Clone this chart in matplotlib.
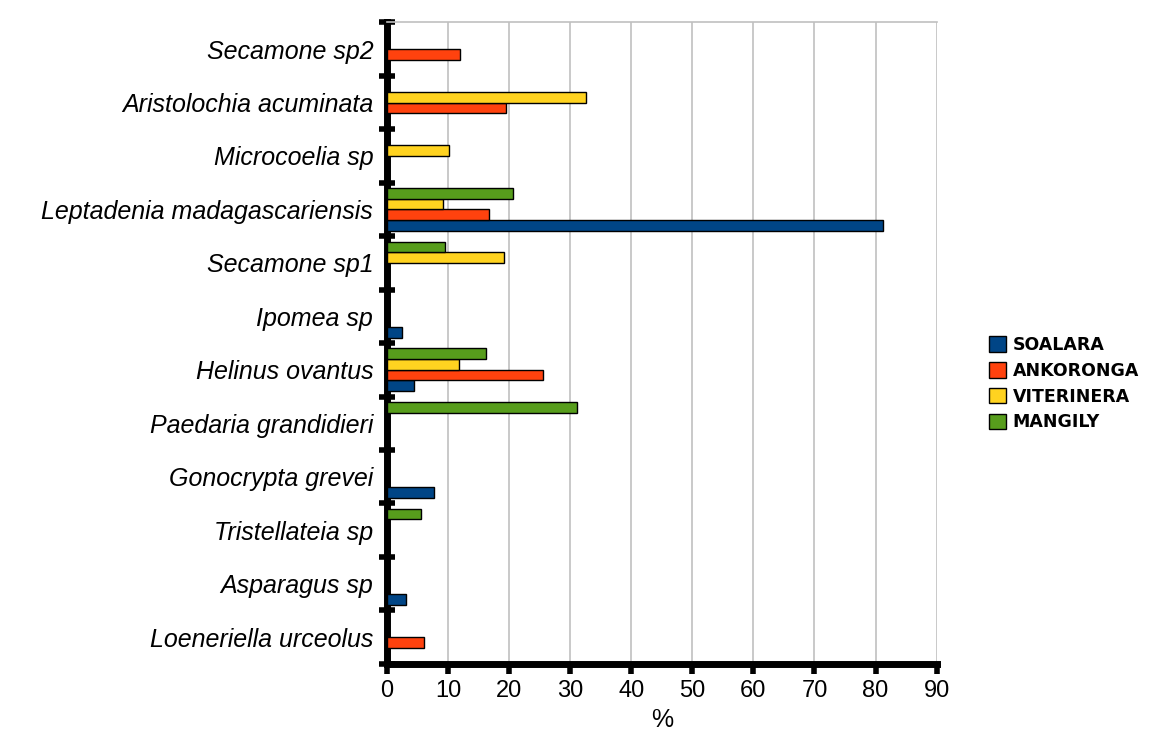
import numpy as np
import matplotlib.pyplot as plt
from matplotlib.ticker import FixedLocator, NullFormatter

# --- Data (top to bottom as in the chart) ---
species = ["Secamone sp2", "Aristolochia acuminata", "Microcoelia sp",
           "Leptadenia madagascariensis", "Secamone sp1", "Ipomea sp",
           "Helinus ovantus", "Paedaria grandidieri", "Gonocrypta grevei",
           "Tristellateia sp", "Asparagus sp", "Loeneriella urceolus"]
soalara    = [0, 0, 0, 81.2, 0, 2.5, 4.4, 0, 7.7, 0, 3.1, 0]
ankoronga  = [12.0, 19.4, 0, 16.7, 0, 0, 25.5, 0, 0, 0, 0, 6.0]
viterinera = [0, 32.5, 10.2, 9.2, 19.1, 0, 11.8, 0, 0, 0, 0, 0]
mangily    = [0, 0, 0, 20.7, 9.5, 0, 16.2, 31.1, 0, 5.5, 0, 0]

series = [("SOALARA", soalara, "#004586"),
          ("ANKORONGA", ankoronga, "#ff420e"),
          ("VITERINERA", viterinera, "#ffd320"),
          ("MANGILY", mangily, "#579d1c")]

n = len(species)
ypos = np.arange(n)[::-1].astype(float)  # top category gets highest y
bh = 0.2

fig = plt.figure(figsize=(11.52, 7.45), dpi=100)
ax = fig.add_axes([0.336, 0.109, 0.477, 0.861])

for k, (name, vals, col) in enumerate(series):
    vals = np.array(vals, dtype=float)
    off = (k - 1.5) * bh
    m = vals > 0
    ax.barh(ypos[m] + off, vals[m], height=bh, color=col,
            edgecolor="black", linewidth=1.0, zorder=3)
    # legend proxy
    ax.barh([np.nan], [np.nan], color=col, edgecolor="black",
            linewidth=1.0, label=name)

ax.set_xlim(0, 90)
ax.set_ylim(-0.5, n - 0.5)
ax.set_xticks(np.arange(0, 91, 10))
ax.tick_params(axis="x", labelsize=17, direction="out", length=7,
               width=4, pad=5, colors="black")
ax.grid(axis="x", color="#c0c0c0", linewidth=1.2, zorder=0)

# y: boundary ticks (major) and centred labels (minor)
ax.yaxis.set_major_locator(FixedLocator(np.arange(-0.5, n, 1.0)))
ax.yaxis.set_major_formatter(NullFormatter())
ax.yaxis.set_minor_locator(FixedLocator(ypos))
ax.set_yticklabels(species, minor=True, fontsize=18, fontstyle="italic",
                   family="Liberation Sans")
ax.tick_params(axis="y", which="major", direction="inout", length=12, width=4)
ax.tick_params(axis="y", which="minor", length=0, pad=10)

for lab in ax.get_xticklabels():
    lab.set_family("Liberation Sans")

ax.spines["left"].set_linewidth(5)
ax.spines["bottom"].set_linewidth(5)
ax.spines["top"].set_color("#c0c0c0")
ax.spines["top"].set_linewidth(1.2)
ax.spines["right"].set_visible(False)

ax.set_xlabel("%", fontsize=18, family="Liberation Sans", labelpad=4)

leg = fig.legend(loc="center left", bbox_to_anchor=(0.845, 0.485),
                 frameon=False, handlelength=1.0, handleheight=1.0,
                 handletextpad=0.35, labelspacing=0.45,
                 prop={"family": "DejaVu Sans", "weight": "bold", "size": 12.5})

fig.savefig("out.png", dpi=100)
